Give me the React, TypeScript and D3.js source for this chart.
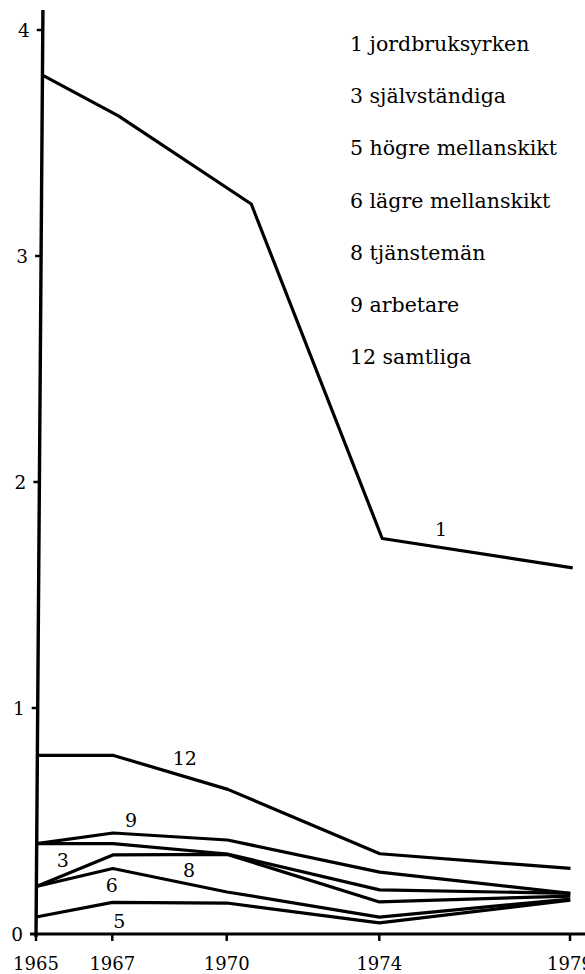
import React from 'react';
import * as d3 from 'd3';

// ---- data ----
const years = [1965, 1967, 1970, 1974, 1979];
const yTickValues = [0, 1, 2, 3, 4];
const jordbruksYears = [1965, 1967, 1970.5, 1974, 1979];

const jordbruksyrken = [3.8, 3.62, 3.23, 1.75, 1.62];
const samtliga = [0.79, 0.79, 0.64, 0.355, 0.29];
const arbetare = [0.4, 0.447, 0.416, 0.274, 0.18];
const sjalvstandiga = [0.4, 0.4, 0.354, 0.195, 0.18];
const tjansteman = [0.21, 0.35, 0.352, 0.142, 0.168];
const lagreMellanskikt = [0.21, 0.29, 0.186, 0.075, 0.155];
const hogreMellanskikt = [0.075, 0.14, 0.137, 0.049, 0.15];

const legendLabels = [
  '1 jordbruksyrken',
  '3 självständiga',
  '5 högre mellanskikt',
  '6 lägre mellanskikt',
  '8 tjänstemän',
  '9 arbetare',
  '12 samtliga',
];

// line-number annotations, in data units (year, value)
const lineLabelIds = ['1', '12', '9', '3', '8', '6', '5'];
const lineLabelYears = [1975.54, 1968.87, 1967.47, 1965.69, 1969.0, 1966.98, 1967.18];
const lineLabelValues = [1.76, 0.748, 0.473, 0.296, 0.252, 0.186, 0.027];

const FONT = '"DejaVu Serif", serif';

export default function App() {
  const W = 585;
  const H = 974;
  const x = d3.scaleLinear().domain([1965, 1979]).range([36, 570]);
  const y = d3.scaleLinear().domain([0, 4]).range([934, 30]);
  const skew = 0.0075; // the scanned y-axis leans slightly to the right
  const px = (yr: number, v: number) => x(yr) + skew * (y(0) - y(v));

  const line = d3
    .line<[number, number]>()
    .x((d) => px(d[0], d[1]))
    .y((d) => y(d[1]));

  const series: { yrs: number[]; vals: number[] }[] = [
    { yrs: jordbruksYears, vals: jordbruksyrken },
    { yrs: years, vals: samtliga },
    { yrs: years, vals: arbetare },
    { yrs: years, vals: sjalvstandiga },
    { yrs: years, vals: tjansteman },
    { yrs: years, vals: lagreMellanskikt },
    { yrs: years, vals: hogreMellanskikt },
  ];

  const axisTop = y.invert(10);
  const ts = { fontFamily: FONT };

  return (
    <svg
      width={W}
      height={H}
      style={{ position: 'absolute', left: 0, top: 0, background: '#fff' }}
    >
      <rect x={0} y={0} width={W} height={H} fill="#fff" />
      {/* y axis */}
      <line
        x1={px(1965, 0)}
        y1={y(0) + 3}
        x2={px(1965, axisTop)}
        y2={y(axisTop)}
        stroke="#000"
        strokeWidth={3.4}
      />
      {yTickValues.map((v) => (
        <g key={'yt' + v}>
          {v > 0 && (
            <line
              x1={px(1965, v) - 6}
              x2={px(1965, v)}
              y1={y(v)}
              y2={y(v)}
              stroke="#000"
              strokeWidth={2.5}
            />
          )}
          <text
            x={px(1965, v) - 13}
            y={y(v) + 7}
            textAnchor="end"
            fontSize={18.5}
            fill="#000"
            style={ts}
          >
            {v}
          </text>
        </g>
      ))}
      {/* x axis */}
      <line x1={30} x2={W} y1={y(0)} y2={y(0)} stroke="#000" strokeWidth={3} />
      {years.map((yr) => (
        <g key={'xt' + yr}>
          <line
            x1={x(yr)}
            x2={x(yr)}
            y1={y(0)}
            y2={y(0) + 7}
            stroke="#000"
            strokeWidth={2.5}
          />
          <text x={x(yr)} y={970} textAnchor="middle" fontSize={18} fill="#000" style={ts}>
            {yr}
          </text>
        </g>
      ))}
      {/* series */}
      {series.map((s, i) => (
        <path
          key={'s' + i}
          d={line(s.yrs.map((yr, j) => [yr, s.vals[j]] as [number, number])) || ''}
          fill="none"
          stroke="#000"
          strokeWidth={3.2}
          strokeLinejoin="round"
        />
      ))}
      {/* line labels */}
      {lineLabelIds.map((id, i) => (
        <text
          key={'ll' + id}
          x={px(lineLabelYears[i], lineLabelValues[i])}
          y={y(lineLabelValues[i])}
          textAnchor="middle"
          fontSize={19}
          fill="#000"
          style={ts}
        >
          {id}
        </text>
      ))}
      {/* legend */}
      {legendLabels.map((t, i) => (
        <text
          key={'lg' + i}
          x={350}
          y={51 + i * 52.2}
          fontSize={20.5}
          fill="#000"
          style={ts}
        >
          {t}
        </text>
      ))}
    </svg>
  );
}
